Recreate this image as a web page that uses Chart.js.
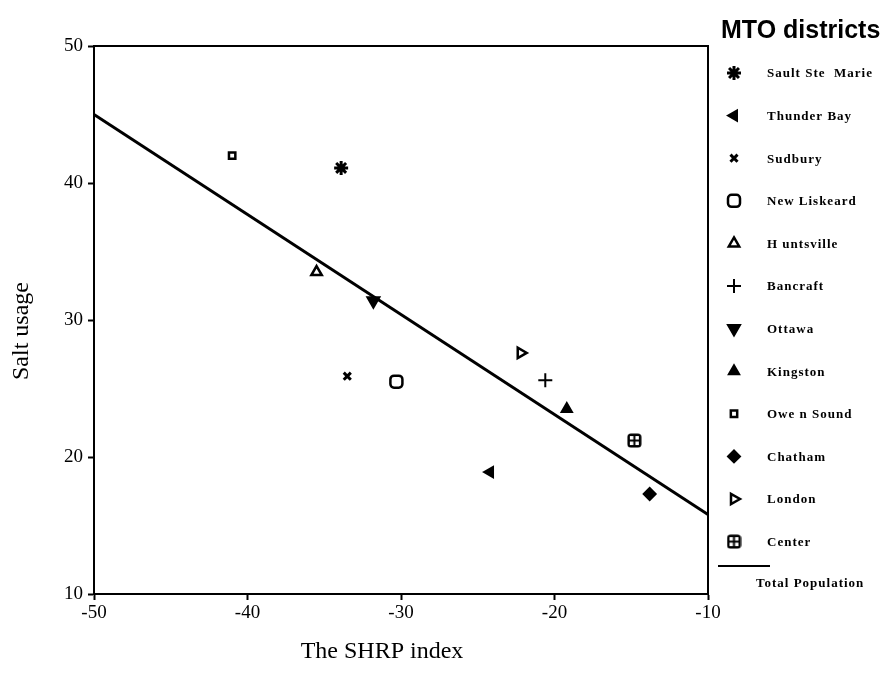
<!DOCTYPE html>
<html>
<head>
<meta charset="utf-8">
<script src="https://cdn.jsdelivr.net/npm/chart.js@4/dist/chart.umd.min.js"></script>
<style>
  html, body { margin: 0; padding: 0; background: #fff; }
  #wrap { width: 893px; height: 692px; }
</style>
</head>
<body>
<div id="wrap"><canvas id="chart" width="893" height="692"></canvas></div>
<script>
// data
const districts = ['Sault Ste  Marie', 'Thunder Bay', 'Sudbury', 'New Liskeard', 'H untsville', 'Bancraft',
  'Ottawa', 'Kingston', 'Owe n Sound', 'Chatham', 'London', 'Center'];
const shrpIndex = [-33.9, -24.2, -33.5, -30.3, -35.5, -20.6, -31.8, -19.2, -41.0, -13.8, -22.2, -14.8];
const saltUsage = [41.1, 18.9, 25.9, 25.5, 33.5, 25.6, 31.4, 23.5, 42.0, 17.3, 27.6, 21.2];
const fitX = [-50, -10];
const fitY = [45.0, 15.8];
const xTicks = [-50, -40, -30, -20, -10];
const yTicks = [10, 20, 30, 40, 50];

// marker for "Center": square with a cross
const centerMark = document.createElement('canvas');
centerMark.width = 15; centerMark.height = 15;
(() => {
  const c = centerMark.getContext('2d');
  c.fillStyle = '#000';
  c.beginPath();
  c.roundRect(0.5, 0.5, 14, 14, 3.5);
  c.fill();
  c.fillStyle = '#fff';
  c.fillRect(3, 3, 3.5, 3.5);
  c.fillRect(8.5, 3, 3.5, 3.5);
  c.fillRect(3, 8.5, 3.5, 3.5);
  c.fillRect(8.5, 8.5, 3.5, 3.5);
})();

// marker styles per district (same order as districts)
const markers = [
  { pointStyle: 'star', radius: 7, rotation: 0, filled: false, borderWidth: 3 },
  { pointStyle: 'triangle', radius: 6, rotation: -90, filled: true, borderWidth: 2 },
  { pointStyle: 'crossRot', radius: 5, rotation: 0, filled: false, borderWidth: 3 },
  { pointStyle: 'rectRounded', radius: 7, rotation: 0, filled: false, borderWidth: 2.5 },
  { pointStyle: 'triangle', radius: 6, rotation: 0, filled: false, borderWidth: 2.5 },
  { pointStyle: 'cross', radius: 7, rotation: 0, filled: false, borderWidth: 2 },
  { pointStyle: 'triangle', radius: 7, rotation: 180, filled: true, borderWidth: 2 },
  { pointStyle: 'triangle', radius: 6, rotation: 0, filled: true, borderWidth: 2 },
  { pointStyle: 'rect', radius: 4.5, rotation: 0, filled: false, borderWidth: 2.5 },
  { pointStyle: 'rectRot', radius: 6, rotation: 0, filled: true, borderWidth: 2 },
  { pointStyle: 'triangle', radius: 6, rotation: 90, filled: false, borderWidth: 2.5 },
  { pointStyle: centerMark, radius: 7, rotation: 0, filled: true, borderWidth: 1 }
];

const datasets = districts.map((name, i) => ({
  label: name,
  data: [{ x: shrpIndex[i], y: saltUsage[i] }],
  pointStyle: markers[i].pointStyle,
  pointRadius: markers[i].radius,
  pointRotation: markers[i].rotation,
  pointBorderWidth: markers[i].borderWidth,
  pointBorderColor: '#000',
  pointBackgroundColor: markers[i].filled ? '#000' : '#fff',
  showLine: false
}));

datasets.push({
  label: 'Total Population',
  data: fitX.map((x, i) => ({ x: x, y: fitY[i] })),
  showLine: true,
  borderColor: '#000',
  borderWidth: 3,
  pointRadius: 0,
  fill: false
});

const serif = '"Liberation Serif", "Times New Roman", serif';

// frame around the plot area
const framePlugin = {
  id: 'frame',
  beforeDatasetsDraw(chart) {
    const { ctx, chartArea: a } = chart;
    ctx.save();
    ctx.strokeStyle = '#000';
    ctx.lineWidth = 2;
    ctx.strokeRect(a.left, a.top, a.right - a.left, a.bottom - a.top);
    ctx.restore();
  }
};

// axis titles, placed where they sit in the picture
const axisTitles = {
  id: 'axisTitles',
  afterDraw(chart) {
    const ctx = chart.ctx;
    ctx.save();
    ctx.fillStyle = '#000';
    ctx.font = '24px ' + serif;
    ctx.textAlign = 'center';
    ctx.textBaseline = 'middle';
    ctx.fillText('The SHRP index', 382, 652);
    ctx.translate(22, 331);
    ctx.rotate(-Math.PI / 2);
    ctx.fillText('Salt usage', 0, 0);
    ctx.restore();
  }
};

// legend on the right, drawn by hand
const sideLegend = {
  id: 'sideLegend',
  afterDraw(chart) {
    const ctx = chart.ctx;
    ctx.save();
    ctx.fillStyle = '#000';
    ctx.textBaseline = 'middle';
    ctx.font = 'bold 25px "Liberation Sans", Arial, sans-serif';
    ctx.fillText('MTO districts', 721, 31);

    ctx.font = 'bold 13px ' + serif;
    ctx.letterSpacing = '1px';
    const x0 = 734, xText = 767, y0 = 73, step = 42.6;
    districts.forEach((name, i) => {
      const y = y0 + i * step;
      const m = markers[i];
      ctx.strokeStyle = '#000';
      ctx.fillStyle = m.filled ? '#000' : '#fff';
      ctx.lineWidth = m.borderWidth;
      Chart.helpers.drawPoint(ctx, {
        pointStyle: m.pointStyle,
        rotation: m.rotation,
        radius: m.radius,
        borderWidth: m.borderWidth
      }, x0, y);
      ctx.fillStyle = '#000';
      ctx.fillText(name, xText, y + 1);
    });

    ctx.strokeStyle = '#000';
    ctx.lineWidth = 2;
    ctx.beginPath();
    ctx.moveTo(718, 566);
    ctx.lineTo(770, 566);
    ctx.stroke();
    ctx.fillText('Total Population', 756, 584);
    ctx.restore();
  }
};

new Chart(document.getElementById('chart'), {
  type: 'scatter',
  data: { datasets: datasets },
  options: {
    responsive: false,
    animation: false,
    layout: { padding: { left: 10, top: 46, right: 185, bottom: 28 } },
    plugins: {
      legend: { display: false },
      tooltip: { enabled: false }
    },
    scales: {
      x: {
        type: 'linear',
        min: -50,
        max: -10,
        afterBuildTicks: (scale) => { scale.ticks = xTicks.map((v) => ({ value: v })); },
        afterFit: (scale) => { scale.height = 70; },
        ticks: { color: '#000', font: { family: serif, size: 19 }, padding: 2, maxRotation: 0 },
        grid: { drawOnChartArea: false, drawTicks: true, tickLength: 6, tickWidth: 2, color: '#000' },
        border: { display: true, color: '#000', width: 2 },
        title: { display: false }
      },
      y: {
        type: 'linear',
        min: 10,
        max: 50,
        afterBuildTicks: (scale) => { scale.ticks = yTicks.map((v) => ({ value: v })); },
        afterFit: (scale) => { scale.width = 84; },
        ticks: { color: '#000', font: { family: serif, size: 19 }, padding: 5 },
        grid: { drawOnChartArea: false, drawTicks: true, tickLength: 6, tickWidth: 2, color: '#000' },
        border: { display: true, color: '#000', width: 2 },
        title: { display: false }
      }
    }
  },
  plugins: [framePlugin, axisTitles, sideLegend]
});
</script>
</body>
</html>
